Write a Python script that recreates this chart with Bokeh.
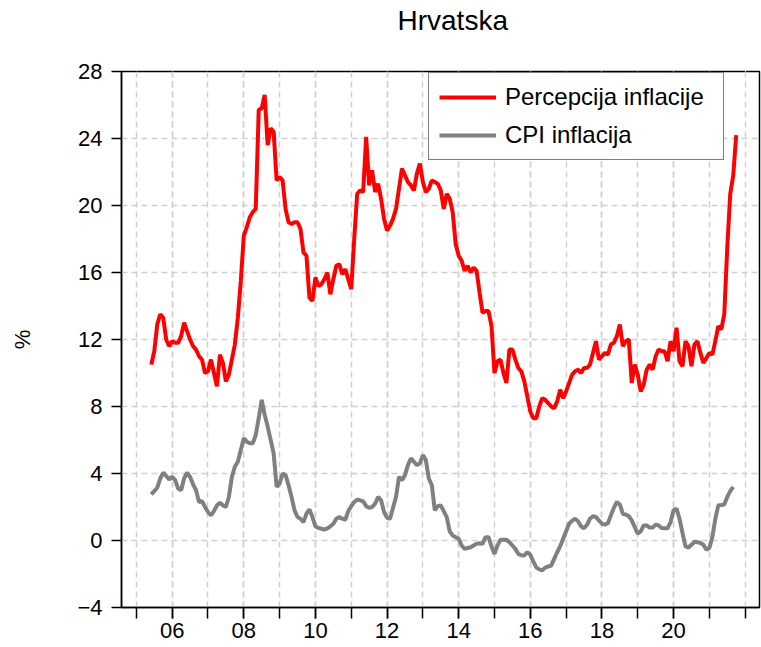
from bokeh.plotting import figure
from bokeh.models import Range1d, FixedTicker, Legend, LegendItem, LinearAxis
from bokeh.embed import file_html
from bokeh.resources import INLINE

title_text = "Hrvatska"
y_label = "%"
series_names = ["Percepcija inflacije", "CPI inflacija"]
start_year = 2005
start_month = 6
year_ticks = [2006, 2008, 2010, 2012, 2014, 2016, 2018, 2020]
tick_labels = ["06", "08", "10", "12", "14", "16", "18", "20"]
minor_years = list(range(2005, 2023))
y_ticks = [-4, 0, 4, 8, 12, 16, 20, 24, 28]

# Perceived inflation, monthly, Jun 2005 - Oct 2021
perception = [
    10.5, 11.3, 12.9, 13.5, 13.3, 12.0, 11.6,
    11.9, 11.8, 11.8, 12.2, 13.0, 12.5, 12.0, 11.6, 11.4, 11.0, 10.8, 10.0,
    10.1, 10.8, 10.0, 9.2, 11.1, 10.6, 9.5, 9.9, 10.8, 11.7, 13.3, 15.5,
    18.2, 18.7, 19.3, 19.6, 19.8, 25.7, 25.8, 26.6, 23.6, 24.6, 24.4, 21.5,
    21.7, 21.5, 19.8, 19.0, 18.9, 19.0, 19.0, 18.6, 17.2, 17.0, 14.5, 14.3,
    15.7, 15.2, 15.3, 15.6, 16.0, 14.7, 15.6, 16.4, 16.5, 15.9, 16.2, 15.6,
    15.0, 18.0, 20.7, 20.9, 20.8, 24.1, 21.2, 22.1, 20.8, 21.3, 20.4, 19.2,
    18.5, 18.8, 19.2, 19.8, 21.0, 22.2, 21.8, 21.4, 21.2, 20.9, 21.9, 22.5,
    21.4, 20.8, 21.0, 21.5, 21.4, 21.3, 20.9, 19.8, 20.7, 20.4, 19.6, 17.7,
    17.0, 16.7, 16.1, 16.4, 16.0, 16.3, 16.1, 14.8, 13.6, 13.7, 13.7, 12.8,
    10.0, 10.7, 10.8, 10.0, 9.4, 11.4, 11.4, 10.8, 10.3, 10.1, 9.5, 8.6,
    7.7, 7.3, 7.3, 8.0, 8.5, 8.4, 8.2, 8.0, 7.9, 8.3, 9.0, 8.5,
    8.9, 9.4, 9.9, 10.1, 10.2, 10.0, 10.3, 10.3, 10.5, 11.2, 11.9, 10.8,
    11.0, 11.2, 11.1, 11.7, 11.8, 12.2, 12.9, 11.6, 11.9, 12.0, 9.4, 10.5,
    9.9, 8.9, 9.3, 10.2, 10.5, 10.2, 11.0, 11.4, 11.3, 11.3, 10.7, 11.9,
    11.3, 12.7, 10.7, 10.4, 11.9, 11.6, 10.4, 11.7, 11.9, 11.2, 10.6, 10.9,
    11.2, 11.1, 11.9, 12.8, 12.6, 13.5, 17.5, 20.7, 21.8, 24.2,
]

# CPI inflation, monthly, Jun 2005 - Sep 2021
cpi = [
    2.75, 2.95, 3.15, 3.7, 4.05, 3.85, 3.65,
    3.8, 3.6, 3.1, 3.0, 3.7, 4.05, 3.8, 3.35, 3.0, 2.3, 2.35, 2.0,
    1.7, 1.5, 1.75, 2.1, 2.25, 2.1, 2.0, 2.6, 3.8, 4.4, 4.7, 5.4,
    6.1, 5.9, 5.8, 5.8, 6.3, 7.3, 8.4, 7.5, 6.8, 6.0, 5.2, 3.2,
    3.4, 4.0, 3.9, 3.3, 2.6, 1.8, 1.4, 1.3, 1.1, 1.6, 1.85, 1.4,
    0.85, 0.75, 0.7, 0.65, 0.72, 0.85, 1.0, 1.3, 1.4, 1.3, 1.24, 1.75,
    2.05, 2.3, 2.44, 2.4, 2.34, 2.05, 1.95, 2.0, 2.2, 2.6, 2.4, 1.7,
    1.35, 1.3, 1.95, 2.6, 3.8, 3.6, 3.9, 4.5, 4.9, 4.7, 4.5, 4.6,
    5.1, 4.8, 3.7, 3.3, 1.8, 2.05, 2.1, 1.75, 1.4, 0.55, 0.3, 0.2,
    0.1, -0.3, -0.5, -0.45, -0.4, -0.3, -0.2, -0.16, -0.2, 0.2, 0.2, -0.35,
    -0.8, -0.3, 0.04, 0.04, 0.04, -0.1, -0.3, -0.5, -0.8, -0.88, -0.89, -0.7,
    -0.85, -1.25, -1.6, -1.72, -1.78, -1.62, -1.55, -1.5, -1.1, -0.7, -0.35, 0.1,
    0.55, 1.0, 1.17, 1.3, 1.15, 0.85, 0.73, 0.93, 1.3, 1.45, 1.4, 1.2,
    1.0, 0.95, 1.03, 1.5, 1.95, 2.3, 2.15, 1.6, 1.55, 1.45, 1.2, 0.8,
    0.4, 0.55, 0.9, 0.9, 0.77, 0.77, 0.95, 0.9, 0.75, 0.73, 0.73, 1.1,
    1.8, 1.9, 1.3, 0.45, -0.35, -0.42, -0.25, -0.08, -0.1, -0.15, -0.25, -0.55,
    -0.45, 0.2, 1.3, 2.1, 2.12, 2.15, 2.6, 2.95, 3.2,
]


def month_x(n):
    return [start_year + (start_month - 1 + i) / 12.0 for i in range(n)]


FONT = "Liberation Sans"

p = figure(width=761, height=647, output_backend="svg", toolbar_location=None,
           x_range=Range1d(2004.585, 2022.40), y_range=Range1d(-4, 28),
           min_border_left=121, min_border_right=2, min_border_top=71,
           min_border_bottom=40)

p.background_fill_color = "white"
p.border_fill_color = "white"
p.outline_line_color = "black"
p.outline_line_width = 1.5

p.title.text = title_text
p.title.text_font = FONT
p.title.text_font_size = "28px"
p.title.text_font_style = "normal"
p.title.text_color = "black"
p.title.align = "left"
p.title.offset = 276
p.title.vertical_align = "bottom"
p.title.standoff = 0

grid_color = "#d0d0d0"
xax = p.below[0]
yax = p.left[0]
xax.ticker = FixedTicker(ticks=year_ticks, minor_ticks=minor_years)
xax.major_label_overrides = dict(zip(year_ticks, tick_labels))
yax.ticker = FixedTicker(ticks=y_ticks)

for ax in (xax, yax):
    ax.axis_line_color = "black"
    ax.axis_line_width = 1.5
    ax.major_tick_line_color = "black"
    ax.major_tick_line_width = 1.5
    ax.major_tick_in = 0
    ax.major_label_text_font = FONT
    ax.major_label_text_font_size = "22px"
    ax.major_label_text_color = "black"

xax.major_tick_out = 11
xax.minor_tick_out = 11
xax.minor_tick_in = 0
xax.minor_tick_line_color = "black"
xax.minor_tick_line_width = 1.5
xax.major_label_standoff = 4

yax.major_tick_out = 10
yax.minor_tick_line_color = None
yax.major_label_standoff = 9
yax.axis_label = y_label
yax.axis_label_text_font = FONT
yax.axis_label_text_font_size = "22px"
yax.axis_label_text_font_style = "normal"
yax.axis_label_text_color = "black"
yax.axis_label_standoff = 39

p.xgrid.grid_line_color = grid_color
p.xgrid.grid_line_dash = "6 4"
p.xgrid.grid_line_width = 1.5
p.xgrid.minor_grid_line_color = grid_color
p.xgrid.minor_grid_line_dash = "6 4"
p.xgrid.minor_grid_line_width = 1.5
p.ygrid.grid_line_color = grid_color
p.ygrid.grid_line_dash = "6 4"
p.ygrid.grid_line_width = 1.5

# spacer axis above the frame with one white (invisible) tick: lifts the title
spacer = LinearAxis(ticker=FixedTicker(ticks=[2022.0], minor_ticks=[]),
                    axis_line_color=None, major_tick_line_color="white",
                    major_tick_line_width=1, minor_tick_line_color=None,
                    major_tick_in=0, major_tick_out=36, minor_tick_in=0,
                    minor_tick_out=0, major_label_standoff=0,
                    major_label_text_font_size="1px", major_label_text_alpha=0)
p.add_layout(spacer, "above")

r1 = p.line(month_x(len(perception)), perception, color="#ff0000", line_width=4)
r2 = p.line(month_x(len(cpi)), cpi, color="#808080", line_width=4)

legend = Legend(items=[LegendItem(label=series_names[0], renderers=[r1]),
                       LegendItem(label=series_names[1], renderers=[r2])],
                location=(307, 447))
legend.label_text_font = FONT
legend.label_text_font_size = "24px"
legend.label_text_color = "black"
legend.glyph_width = 57
legend.glyph_height = 28
legend.label_height = 28
legend.label_width = 208
legend.label_standoff = 9
legend.spacing = 10
legend.padding = 10
legend.margin = 0
legend.border_line_color = "black"
legend.border_line_width = 1.5
legend.background_fill_color = "white"
legend.background_fill_alpha = 1.0
p.add_layout(legend)

open("out.html", "w").write(file_html(p, INLINE))
